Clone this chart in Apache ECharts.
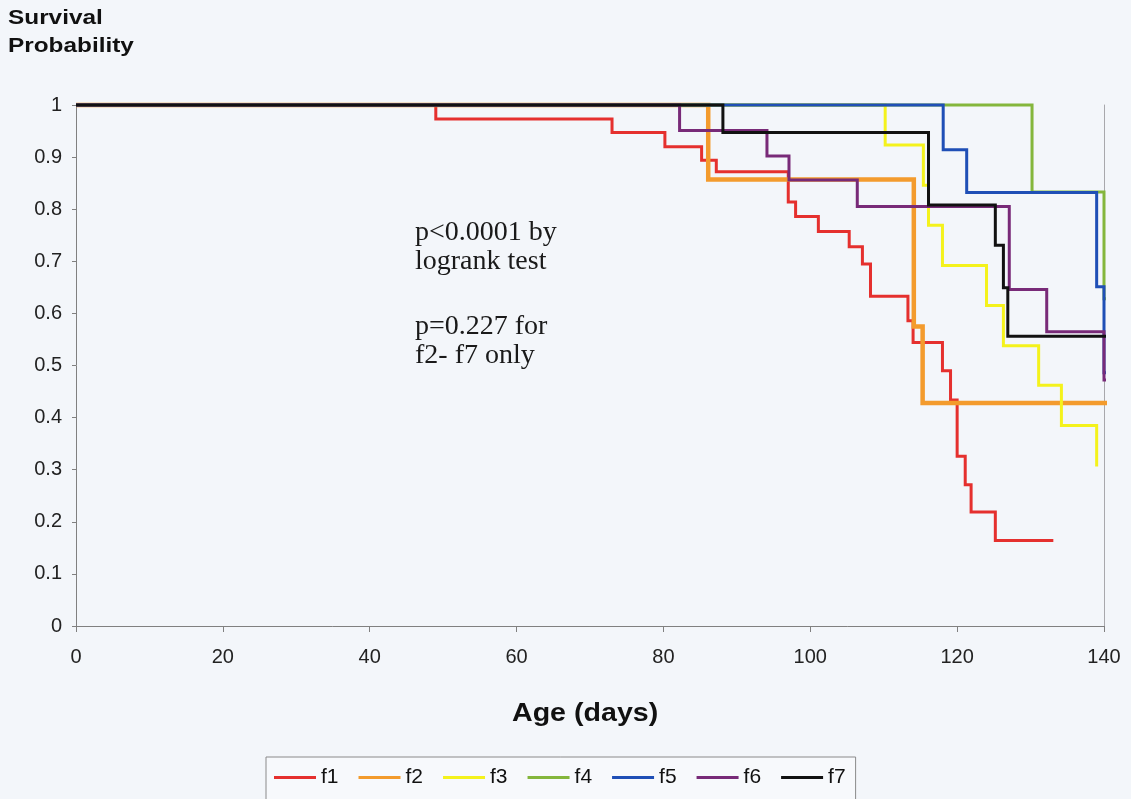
<!DOCTYPE html>
<html>
<head>
<meta charset="utf-8">
<title>Survival Probability by Age</title>
<script src="https://cdn.jsdelivr.net/npm/echarts@6/dist/echarts.min.js"></script>
<style>
  html, body { margin: 0; padding: 0; background: #f3f6fa; }
  #chart { width: 1131px; height: 799px; }
</style>
</head>
<body>
<div id="chart"></div>
<script>
// Kaplan-Meier survival curves: event ages (days) and survival after each event
const seriesNames = ['f1', 'f2', 'f3', 'f4', 'f5', 'f6', 'f7'];

const f1Days = [0, 49, 73, 80.2, 85.2, 87.2, 97.0, 98.0, 101.1, 105.3, 107.1, 108.2, 113.3, 114.0, 118.0, 119.1, 120.0, 121.1, 121.9, 125.2, 133.1];
const f1Surv = [1, 0.973, 0.947, 0.920, 0.894, 0.872, 0.814, 0.786, 0.757, 0.728, 0.695, 0.633, 0.586, 0.544, 0.490, 0.434, 0.326, 0.271, 0.219, 0.164, 0.164];

const f2Days = [0, 86.1, 114.1, 115.3, 140.8];
const f2Surv = [1, 0.857, 0.575, 0.428, 0.428];

const f3Days = [0, 110.2, 115.4, 116.1, 118.0, 124.0, 126.3, 131.1, 134.2, 139.0];
const f3Surv = [1, 0.923, 0.846, 0.769, 0.692, 0.615, 0.538, 0.462, 0.385, 0.306];

const f4Days = [0, 130.2, 140.0, 140.6];
const f4Surv = [1, 0.833, 0.628, 0.628];

const f5Days = [0, 118.1, 121.3, 139.0, 140.0, 140.6];
const f5Surv = [1, 0.914, 0.832, 0.651, 0.486, 0.486];

const f6Days = [0, 82.2, 94.1, 97.1, 106.4, 127.1, 132.2, 140.0, 140.8];
const f6Surv = [1, 0.951, 0.902, 0.856, 0.805, 0.646, 0.565, 0.472, 0.472];

const f7Days = [0, 88.1, 116.1, 125.2, 126.3, 126.9, 140.8];
const f7Surv = [1, 0.947, 0.808, 0.731, 0.649, 0.556, 0.556];

// thin drop line at the end of follow-up
const endLineDays = [140.8, 140.8];
const endLineSurv = [0.63, 0.28];

const xTicks = { min: 0, max: 140, step: 20 };
const yTicks = { min: 0, max: 1, step: 0.1 };

const titleText = 'Survival\nProbability';
const xAxisTitle = 'Age (days)';
const noteLogrank = 'p<0.0001 by\nlogrank test';
const noteSubset = 'p=0.227 for\nf2- f7 only';

const curveDays = [f1Days, f2Days, f3Days, f4Days, f5Days, f6Days, f7Days];
const curveSurv = [f1Surv, f2Surv, f3Surv, f4Surv, f5Surv, f6Surv, f7Surv];
const curveColors = ['#e5302e', '#f39b2d', '#f4f21c', '#84b63c', '#1f4fb6', '#782a78', '#111111'];
const curveWidths = [3, 4.5, 3, 3, 3, 3, 3];

function pairs(xs, ys) { return xs.map((x, i) => [x, ys[i]]); }

const series = seriesNames.map((name, i) => ({
  name: name,
  type: 'line',
  step: 'end',
  symbol: 'none',
  clip: false,
  data: pairs(curveDays[i], curveSurv[i]),
  lineStyle: { color: curveColors[i], width: curveWidths[i], cap: 'butt', join: 'miter' },
  itemStyle: { color: curveColors[i] },
  z: 2 + i
}));

series.unshift({
  name: 'end',
  type: 'line',
  symbol: 'none',
  clip: false,
  silent: true,
  data: pairs(endLineDays, endLineSurv),
  lineStyle: { color: '#b4b4b8', width: 1 },
  z: 1
});

const sans = '"Liberation Sans", Arial, sans-serif';

const chart = echarts.init(document.getElementById('chart'), null, { renderer: 'canvas' });

chart.setOption({
  animation: false,
  backgroundColor: '#f3f6fa',
  grid: { left: 76, right: 27, top: 105, bottom: 173, containLabel: false },
  xAxis: {
    type: 'value',
    min: xTicks.min,
    max: xTicks.max,
    interval: xTicks.step,
    axisLine: { lineStyle: { color: '#808080', width: 1 } },
    axisTick: { show: true, length: 6, lineStyle: { color: '#808080' } },
    axisLabel: { fontFamily: sans, fontSize: 20, color: '#222', margin: 21 },
    splitLine: { show: false }
  },
  yAxis: [{
    type: 'value',
    min: yTicks.min,
    max: yTicks.max,
    interval: yTicks.step,
    axisLine: { show: true, lineStyle: { color: '#808080', width: 1 } },
    axisTick: { show: true, length: 4, lineStyle: { color: '#808080' } },
    axisLabel: {
      fontFamily: sans, fontSize: 20, color: '#222', margin: 14,
      formatter: v => String(Math.round(v * 10) / 10)
    },
    splitLine: { show: false }
  }, {
    type: 'value',
    position: 'right',
    min: yTicks.min,
    max: yTicks.max,
    axisLine: { show: true, lineStyle: { color: '#a8a8ac', width: 1 } },
    axisTick: { show: false },
    axisLabel: { show: false },
    splitLine: { show: false }
  }],
  legend: {
    data: seriesNames,
    left: 266,
    top: 757,
    orient: 'horizontal',
    icon: 'rect',
    itemWidth: 42,
    itemHeight: 3,
    itemGap: 20,
    padding: [10, 10, 22, 8],
    borderColor: '#8a8a8a',
    borderWidth: 1,
    backgroundColor: '#f7f9fc',
    textStyle: { fontFamily: sans, fontSize: 21, color: '#111' }
  },
  graphic: [{
    type: 'text',
    left: 8,
    top: 4,
    scaleX: 1.16,
    style: {
      text: titleText,
      font: 'bold 21px ' + sans,
      lineHeight: 28,
      fill: '#111'
    }
  }, {
    type: 'text',
    left: 512,
    top: 701,
    scaleX: 1.1,
    style: {
      text: xAxisTitle,
      font: 'bold 26px ' + sans,
      fill: '#111'
    }
  }, {
    type: 'text',
    left: 415,
    top: 218,
    style: {
      text: noteLogrank,
      font: '28px "Liberation Serif", "Times New Roman", serif',
      lineHeight: 29,
      fill: '#1a1a1a'
    }
  }, {
    type: 'text',
    left: 415,
    top: 312,
    style: {
      text: noteSubset,
      font: '28px "Liberation Serif", "Times New Roman", serif',
      lineHeight: 29,
      fill: '#1a1a1a'
    }
  }],
  series: series
});
</script>
</body>
</html>
